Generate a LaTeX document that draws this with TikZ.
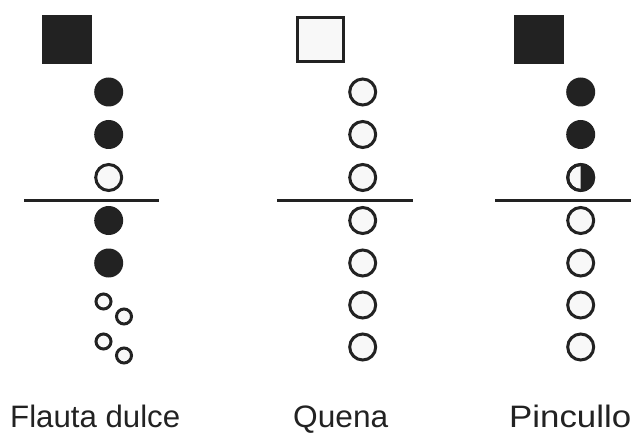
\documentclass[tikz,border=0pt]{standalone}
\usepackage{fontspec}
\usepackage{graphicx}
\setmainfont{Liberation Sans}
\definecolor{ink}{HTML}{222222}
\definecolor{paper}{HTML}{F8F8F8}
\begin{document}
\begin{tikzpicture}[x=1pt,y=-1pt,
  hole/.style={circle, draw=ink, fill=paper, line width=3pt, minimum size=26pt, inner sep=0pt},
  shut/.style={circle, fill=ink, minimum size=29pt, inner sep=0pt},
  minihole/.style={circle, draw=ink, fill=paper, line width=3pt, minimum size=15pt, inner sep=0pt},
  bar/.style={line width=3pt, draw=ink},
  lab/.style={anchor=base west, font=\fontsize{31}{31}\selectfont, text=ink, inner sep=0pt}]
\useasboundingbox[fill=white] (0,0) rectangle (635,433);
% Flauta dulce
\node[fill=ink, minimum width=50pt, minimum height=49pt, inner sep=0pt] (fq) at (67,39.5) {};
\node[shut] (f1) at (108.7,92) {};
\node[shut] (f2) at (108.7,134.5) {};
\node[hole] (f3) at (108.7,177.5) {};
\draw[bar] (24,200.5) -- (159,200.5);
\node[shut] (f4) at (108.7,220.5) {};
\node[shut] (f5) at (108.7,263) {};
\node[minihole] (f6a) at (103.5,301.5) {};
\node[minihole] (f6b) at (124,316.5) {};
\node[minihole] (f7a) at (103.5,341.5) {};
\node[minihole] (f7b) at (124,355.5) {};
\node[lab] (fl) at (10,427) {\resizebox{170pt}{\height}{Flauta dulce}};
% Quena
\node[draw=ink, fill=paper, line width=3pt, minimum width=46pt, minimum height=44.5pt, inner sep=0pt] (qq) at (320.5,39.5) {};
\node[hole] (q1) at (362.7,92) {};
\node[hole] (q2) at (362.7,134.5) {};
\node[hole] (q3) at (362.7,177.5) {};
\draw[bar] (277,200.5) -- (413,200.5);
\node[hole] (q4) at (362.7,220.5) {};
\node[hole] (q5) at (362.7,263) {};
\node[hole] (q6) at (362.7,305) {};
\node[hole] (q7) at (362.7,347) {};
\node[lab] (ql) at (293,427) {\resizebox{95pt}{\height}{Quena}};
% Pincullo
\node[fill=ink, minimum width=50pt, minimum height=49pt, inner sep=0pt] (pq) at (539,39.5) {};
\node[shut] (p1) at (580.7,92) {};
\node[shut] (p2) at (580.7,134.5) {};
\node[hole] (p3) at (580.7,177.5) {};
\begin{scope}
  \clip (p3.north) rectangle ([xshift=16pt]p3.south);
  \fill[ink] (p3.center) circle[radius=13pt];
\end{scope}
\draw[ink, line width=3pt] (p3.center) circle[radius=13pt];
\draw[bar] (495,200.5) -- (631,200.5);
\node[hole] (p4) at (580.7,220.5) {};
\node[hole] (p5) at (580.7,263) {};
\node[hole] (p6) at (580.7,305) {};
\node[hole] (p7) at (580.7,347) {};
\node[lab] (pl) at (509,427) {\resizebox{122pt}{\height}{Pincullo}};
\end{tikzpicture}
\end{document}
